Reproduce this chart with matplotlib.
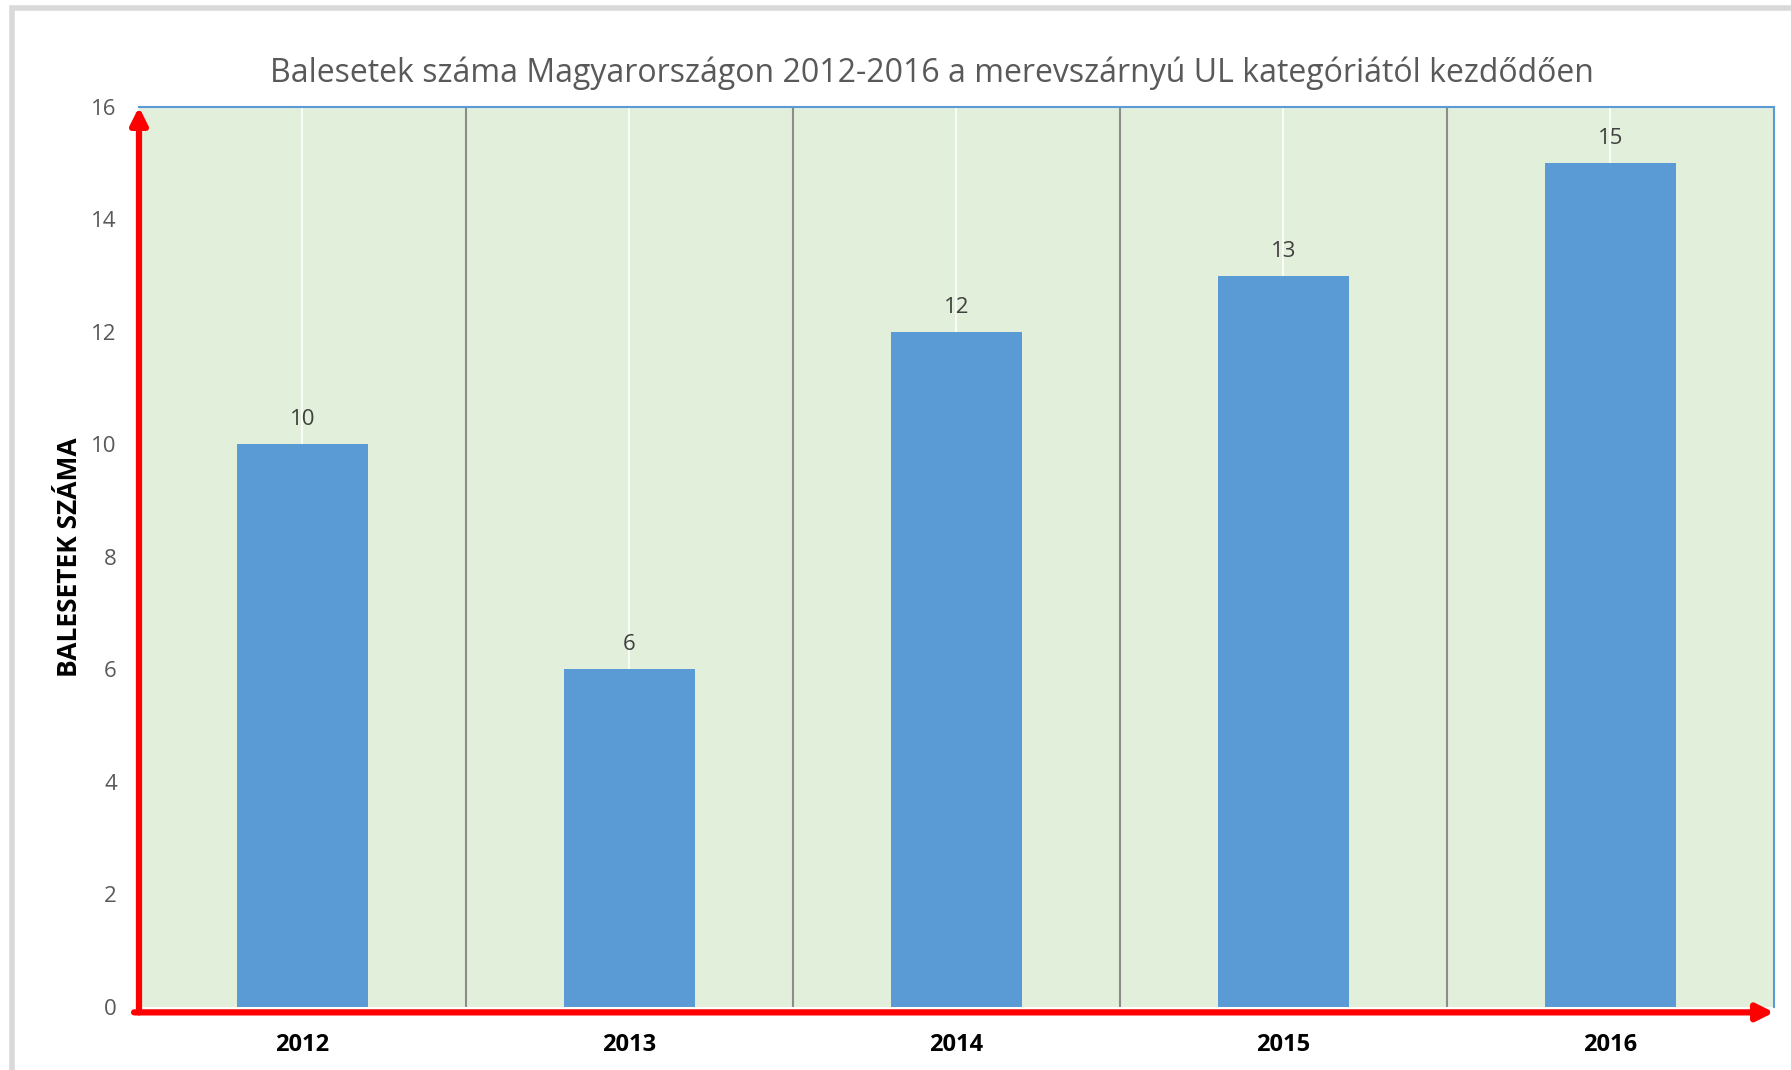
import numpy as np
import matplotlib.pyplot as plt
from matplotlib.patches import Rectangle

years = ["2012", "2013", "2014", "2015", "2016"]
accidents = [10, 6, 12, 13, 15]
yticks = [0, 2, 4, 6, 8, 10, 12, 14, 16]

title = "Balesetek száma Magyarországon 2012-2016 a merevszárnyú UL kategóriától kezdődően"
ylabel = "BALESETEK SZÁMA"

plt.rcParams['font.family'] = ['Open Sans', 'DejaVu Sans']

fig = plt.figure(figsize=(17.91, 10.70), dpi=100)
ax = fig.add_axes([0.0776, 0.0589, 0.9129, 0.8411])

# outer chart frame (cut off on the right and bottom)
fig.patches.append(Rectangle((12 / 1791, -0.1), 1.2, 1.1 - 8 / 1070,
                             transform=fig.transFigure, fill=False,
                             edgecolor='#D9D9D9', linewidth=4, zorder=0))

x = np.arange(len(years))
ax.set_facecolor('#E2EFDA')
ax.bar(x, accidents, width=0.4, color='#5B9BD5', zorder=3)

for xi, v in zip(x, accidents):
    ax.text(xi, v + 0.25, str(v), ha='center', va='bottom',
            fontsize=16, color='#404040', zorder=4)

ax.set_xlim(-0.5, len(years) - 0.5)
ax.set_ylim(0, 16)
ax.set_yticks(yticks)
ax.set_xticks(x)
ax.set_xticklabels(years, fontsize=17, fontweight='bold', color='black')
ax.tick_params(axis='y', length=0, pad=16, labelsize=16, labelcolor='#595959')
ax.tick_params(axis='x', length=0, pad=19)

# white lines at category centres, grey separators between categories
for xi in x:
    ax.axvline(xi, color='white', linewidth=1.2, zorder=1)
for xi in x[1:]:
    ax.axvline(xi - 0.5, color='#8C8C8C', linewidth=1.5, zorder=2)

ax.spines['top'].set_color('#5B9BD5')
ax.spines['right'].set_color('#5B9BD5')
ax.spines['top'].set_linewidth(1.5)
ax.spines['right'].set_linewidth(1.5)
ax.spines['left'].set_visible(False)
ax.spines['bottom'].set_visible(False)

# red axis arrows
ax.annotate('', xy=(0, 1.0), xytext=(0, -0.006), xycoords='axes fraction',
            arrowprops=dict(arrowstyle='-|>,head_length=1.0,head_width=0.5',
                            color='#FF0000', lw=4.5, shrinkA=0, shrinkB=0),
            annotation_clip=False, zorder=6)
ax.annotate('', xy=(1.0, -0.006), xytext=(-0.003, -0.006), xycoords='axes fraction',
            arrowprops=dict(arrowstyle='-|>,head_length=1.0,head_width=0.5',
                            color='#FF0000', lw=4.5, shrinkA=0, shrinkB=0),
            annotation_clip=False, zorder=6)

ax.set_ylabel(ylabel, fontsize=19, fontweight='bold', color='black', labelpad=6)
fig.text(0.5206, 0.932, title, ha='center', va='center', fontsize=23, color='#595959')

fig.savefig('out.png', dpi=100)
